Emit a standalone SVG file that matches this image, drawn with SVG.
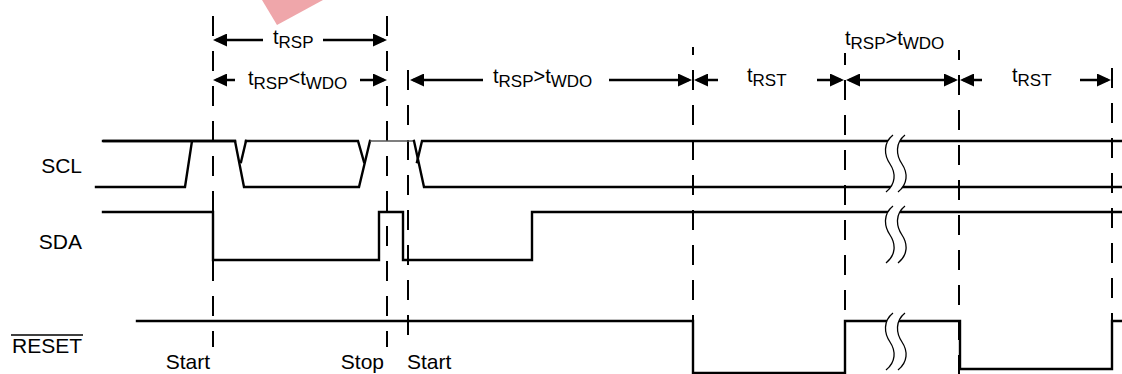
<svg xmlns="http://www.w3.org/2000/svg" width="1122" height="374" viewBox="0 0 1122 374">
<defs>
<style>
.wave{fill:none;stroke:#000;stroke-width:2.4;stroke-linejoin:miter;stroke-linecap:square}
.thin{fill:none;stroke:#555;stroke-width:1.4}
.dash{stroke:#000;stroke-width:2;stroke-dasharray:20 15}
.arr{stroke:#000;stroke-width:2.5;fill:none}
.sq{fill:none;stroke:#000;stroke-width:1.3}
.mask{fill:#fff;stroke:none}
text{font-family:"Liberation Sans",Arial,Helvetica,sans-serif;fill:#000}
.lbl{font-size:21px}
.tm{font-size:20px}
.sub{font-size:17px}
</style>
<marker id="ah" viewBox="0 0 14 13" refX="11" refY="6.5" markerWidth="14" markerHeight="13" markerUnits="userSpaceOnUse" orient="auto-start-reverse">
<path d="M0,0 L14,6.5 L0,13 z" fill="#000"/>
</marker>
</defs>
<rect width="1122" height="374" fill="#fff"/>
<polygon points="262,0 277,25 323,0" fill="#efa6aa"/>

<g id="guides">
<line class="dash" x1="213" y1="16" x2="213" y2="347"/>
<line class="dash" x1="387" y1="16" x2="387" y2="347"/>
<line class="dash" x1="408" y1="70" x2="408" y2="347"/>
<line class="dash" x1="693" y1="47" x2="693" y2="374" style="stroke-dashoffset:12"/>
<line class="dash" x1="845" y1="53" x2="845" y2="374" style="stroke-dashoffset:8"/>
<line class="dash" x1="959" y1="50" x2="959" y2="374" style="stroke-dashoffset:10"/>
<line class="dash" x1="1112" y1="68" x2="1112" y2="374"/>
</g>

<g id="scl">
<polyline class="wave" points="96,187 185,187 192,141 103,141 235,141 244,187 359,187 370,141"/>
<line class="wave" x1="103" y1="141" x2="235" y2="141"/>
<polyline class="wave" points="246,141 358,141 364,162"/>
<line class="wave" x1="246" y1="141" x2="241" y2="162"/>
<line class="thin" x1="370" y1="141" x2="414" y2="141"/>
<polyline class="wave" points="414,141 424,187 1122,187"/>
<polyline class="wave" points="417,162 422,141 1122,141"/>
</g>

<g id="sda">
<polyline class="wave" points="103,212 213,212 213,260 379,260 379,212 403,212 403,260 532,260 532,212 1122,212"/>
</g>

<g id="reset">
<polyline class="wave" points="137,321 693,321 693,373 845,373 845,321 960,321 960,369 1112,369 1112,321 1122,321"/>
</g>

<g id="breaks">
<path class="mask" d="M893,135 c-10,8 -9,20 -3,29 c6,9 6,20 -4,28 L898,192 c10,-8 10,-19 4,-28 c-6,-9 -7,-21 3,-29 z"/>
<path class="sq" d="M893,135 c-10,8 -9,20 -3,29 c6,9 6,20 -4,28"/>
<path class="sq" d="M905,135 c-10,8 -9,20 -3,29 c6,9 6,20 -4,28"/>
<path class="mask" d="M893,206 c-10,8 -9,20 -3,29 c6,9 6,20 -4,28 L898,263 c10,-8 10,-19 4,-28 c-6,-9 -7,-21 3,-29 z"/>
<path class="sq" d="M893,206 c-10,8 -9,20 -3,29 c6,9 6,20 -4,28"/>
<path class="sq" d="M905,206 c-10,8 -9,20 -3,29 c6,9 6,20 -4,28"/>
<path class="mask" d="M893,313 c-10,8 -9,20 -3,29 c6,9 6,20 -4,28 L898,370 c10,-8 10,-19 4,-28 c-6,-9 -7,-21 3,-29 z"/>
<path class="sq" d="M893,313 c-10,8 -9,20 -3,29 c6,9 6,20 -4,28"/>
<path class="sq" d="M905,313 c-10,8 -9,20 -3,29 c6,9 6,20 -4,28"/>
</g>

<g id="connectors">
<line class="arr" x1="263" y1="40" x2="216" y2="40" marker-end="url(#ah)"/>
<line class="arr" x1="323" y1="40" x2="384" y2="40" marker-end="url(#ah)"/>
<line class="arr" x1="235" y1="80" x2="216" y2="80" marker-end="url(#ah)"/>
<line class="arr" x1="360" y1="80" x2="384" y2="80" marker-end="url(#ah)"/>
<line class="arr" x1="483" y1="80" x2="413" y2="80" marker-end="url(#ah)"/>
<line class="arr" x1="609" y1="80" x2="689" y2="80" marker-end="url(#ah)"/>
<line class="arr" x1="718" y1="80" x2="697" y2="80" marker-end="url(#ah)"/>
<line class="arr" x1="817" y1="80" x2="841" y2="80" marker-end="url(#ah)"/>
<line class="arr" x1="849" y1="80" x2="955" y2="80" marker-start="url(#ah)" marker-end="url(#ah)"/>
<line class="arr" x1="982" y1="80" x2="963" y2="80" marker-end="url(#ah)"/>
<line class="arr" x1="1080" y1="80" x2="1108" y2="80" marker-end="url(#ah)"/>
</g>

<g id="labels">
<text class="lbl" x="82" y="173" text-anchor="end">SCL</text>
<text class="lbl" x="82" y="249" text-anchor="end">SDA</text>
<text class="lbl" x="82" y="353" text-anchor="end">RESET</text>
<line x1="11" y1="335" x2="83" y2="335" stroke="#000" stroke-width="1.5"/>
<text class="lbl" x="210" y="369" text-anchor="end">Start</text>
<text class="lbl" x="384" y="369" text-anchor="end">Stop</text>
<text class="lbl" x="407" y="369">Start</text>
</g>

<g id="timing">
<text class="tm" x="273" y="44">t<tspan class="sub" dy="4">RSP</tspan></text>
<text class="tm" x="248" y="85">t<tspan class="sub" dy="4">RSP</tspan><tspan dy="-4">&lt;t</tspan><tspan class="sub" dy="4">WDO</tspan></text>
<text class="tm" x="493" y="83">t<tspan class="sub" dy="4">RSP</tspan><tspan dy="-4">&gt;t</tspan><tspan class="sub" dy="4">WDO</tspan></text>
<text class="tm" x="747" y="82">t<tspan class="sub" dy="4">RST</tspan></text>
<text class="tm" x="1012" y="82">t<tspan class="sub" dy="4">RST</tspan></text>
<text class="tm" x="845" y="45">t<tspan class="sub" dy="4">RSP</tspan><tspan dy="-4">&gt;t</tspan><tspan class="sub" dy="4">WDO</tspan></text>
</g>
</svg>
